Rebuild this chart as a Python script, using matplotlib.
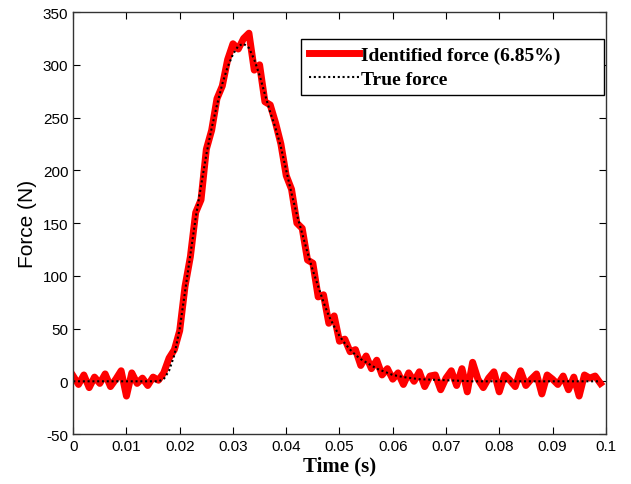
import numpy as np
import matplotlib
matplotlib.use('Agg')
import matplotlib.pyplot as plt

plt.rcParams['axes.unicode_minus'] = False

# true force
t_true = [0.0, 0.016, 0.017, 0.018, 0.019, 0.020, 0.021, 0.022, 0.023, 0.024, 0.025,
          0.026, 0.027, 0.028, 0.029, 0.030, 0.031, 0.032, 0.033, 0.034, 0.035,
          0.036, 0.037, 0.038, 0.039, 0.040, 0.041, 0.042, 0.043, 0.044, 0.045,
          0.046, 0.047, 0.048, 0.049, 0.050, 0.051, 0.052, 0.053, 0.054, 0.055,
          0.056, 0.057, 0.058, 0.059, 0.060, 0.062, 0.065, 0.070, 0.075, 0.099]
f_true = [0, 0, 2, 10, 25, 50, 85, 120, 155, 185, 215,
          240, 262, 282, 298, 310, 318, 320, 316, 305, 290,
          272, 255, 240, 222, 200, 178, 158, 140, 122, 105,
          90, 75, 62, 52, 43, 36, 30, 25, 21, 18,
          15, 12, 10, 8, 6, 4, 2, 1, 0, 0]

# identified force, one value per ms from 0 to 0.099 s
f_ident = [5, -3, 6, -6, 4, -2, 7, -5, 2, 10,
           -14, 8, -2, 3, -4, 4, 1, 8, 22, 30,
           48, 90, 118, 160, 172, 220, 238, 268, 280, 305,
           320, 315, 325, 330, 295, 300, 265, 262, 245, 225,
           195, 182, 150, 145, 115, 112, 80, 82, 55, 62,
           38, 40, 28, 30, 15, 24, 12, 20, 6, 12,
           2, 8, -3, 8, 0, 9, -5, 5, 6, -8,
           3, 10, -4, 12, -10, 18, 2, -6, 3, 9,
           -10, 6, 1, -5, 10, -4, 2, 7, -12, 6,
           2, -3, 5, -8, 4, -14, 6, 3, 5, -2]
t_ident = np.arange(len(f_ident)) * 0.001

xticks = [0, 0.01, 0.02, 0.03, 0.04, 0.05, 0.06, 0.07, 0.08, 0.09, 0.1]
xticklabels = ['0', '0.01', '0.02', '0.03', '0.04', '0.05', '0.06', '0.07', '0.08', '0.09', '0.1']
yticks = [-50, 0, 50, 100, 150, 200, 250, 300, 350]

fig = plt.figure(figsize=(6.31, 4.85), dpi=100)
ax = fig.add_axes([0.116, 0.103, 0.844, 0.870])

ax.plot(t_ident, f_ident, color='#ff0000', lw=5, label='Identified force (6.85%)')
ax.plot(t_true, f_true, color='black', lw=1.5, ls=(0, (1, 1.3)), label='True force')

ax.set_xlim(0, 0.1)
ax.set_ylim(-50, 350)
ax.set_xticks(xticks)
ax.set_xticklabels(xticklabels)
ax.set_yticks(yticks)
ax.tick_params(direction='in', top=True, right=True, length=5, labelsize=11)
for lab in ax.get_xticklabels() + ax.get_yticklabels():
    lab.set_family('Liberation Sans')
for s in ax.spines.values():
    s.set_linewidth(1.0)
    s.set_color('#333333')

ax.set_xlabel('Time (s)', family='Liberation Serif', fontweight='bold', fontsize=15, labelpad=2)
ax.set_ylabel('Force (N)', family='Liberation Sans', fontsize=15, labelpad=4)

leg = ax.legend(loc='upper left', bbox_to_anchor=(0.428, 0.803, 0.568, 0.134), mode='expand',
                prop={'family': 'Liberation Serif', 'weight': 'bold', 'size': 14},
                fancybox=False, framealpha=1, edgecolor='black',
                handlelength=2.6, handletextpad=0.1, borderpad=0.4, labelspacing=0.3,
                borderaxespad=0)
leg.get_frame().set_linewidth(1.0)

fig.savefig('out.png', dpi=100)
